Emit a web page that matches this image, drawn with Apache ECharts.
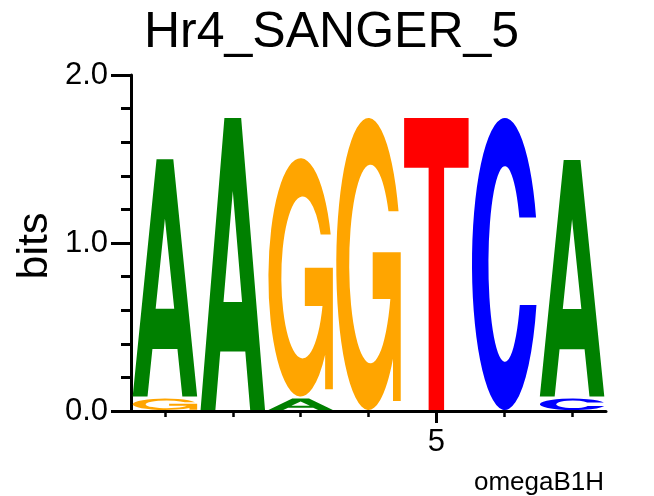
<!DOCTYPE html>
<html>
<head>
<meta charset="utf-8">
<script src="https://cdn.jsdelivr.net/npm/echarts@6/dist/echarts.min.js"></script>
<style>
  html, body { margin: 0; padding: 0; background: #fff; }
  #logo-chart { width: 654px; height: 496px; }
</style>
</head>
<body>
<div id="logo-chart"></div>
<script>
// sequence logo data (bits per letter, per position)
const positions = [1, 2, 3, 4, 5, 6, 7];
const bitsA = [1.425, 1.75, 0.08, 0, 0, 0, 1.42];
const bitsC = [0, 0, 0, 0, 0, 1.75, 0.08];
const bitsG = [0.08, 0, 1.43, 1.75, 0, 0, 0];
const bitsT = [0, 0, 0, 0, 1.75, 0, 0];
const yTicks = [0, 1, 2];
const xLabels = [5];

const letters = ['A', 'C', 'G', 'T'];
const letterBits = { A: bitsA, C: bitsC, G: bitsG, T: bitsT };
const letterColors = { A: '#008000', C: '#0000ff', G: '#ffa500', T: '#ff0000' };

// glyph outlines in a 100x100 box, stretched to each stack slot
const glyphs = {
  A: 'M0,100 L37,0 L63,0 L100,100 L77,100 L69.4,80 L30.6,80 L23,100 Z M50,25 L35.6,63 L64.4,63 Z',
  C: 'M97.4,34 A50,50 0 1 0 98,64 L72.7,64 A25,33.5 0 1 1 72,34 Z',
  G: 'M96.6,32 A50,50 0 1 0 88,82.5 L88,97 L100,97 L100,46 L56.5,46 L56.5,62 L83.9,62 A33,34 0 1 1 81,32 Z',
  T: 'M0,0 L100,0 L100,17 L62,17 L62,100 L38,100 L38,17 L0,17 Z'
};

// stack letters: smallest at the bottom
const stackData = [];
positions.forEach((pos, i) => {
  const col = letters
    .map((l, k) => ({ k: k, h: letterBits[l][i] }))
    .filter(d => d.h > 0)
    .sort((a, b) => a.h - b.h);
  let base = 0;
  col.forEach(d => {
    stackData.push([pos, base, base + d.h, d.k]);
    base += d.h;
  });
});

const font = 'Liberation Sans';
const chart = echarts.init(document.getElementById('logo-chart'));
chart.setOption({
  animation: false,
  title: [
    {
      text: 'Hr4_SANGER_5',
      left: 139,
      top: 3,
      textStyle: { fontFamily: font, fontSize: 50, fontWeight: 'normal', color: '#000' }
    },
    {
      text: 'omegaB1H',
      right: 45,
      top: 465,
      textStyle: { fontFamily: font, fontSize: 26, fontWeight: 'normal', color: '#000' }
    }
  ],
  graphic: [
    {
      type: 'text',
      x: 35,
      y: 246,
      rotation: Math.PI / 2,
      style: {
        text: 'bits',
        fontFamily: font,
        fontSize: 43,
        fill: '#000',
        align: 'center',
        verticalAlign: 'middle'
      }
    }
  ],
  grid: { left: 131, right: 48, top: 75, bottom: 85, containLabel: false },
  xAxis: [
    {
      type: 'value',
      min: 0.5,
      max: 7.5,
      splitLine: { show: false },
      axisLine: { show: true, lineStyle: { color: '#000', width: 3 } },
      axisTick: { show: true, customValues: positions, length: 6, lineStyle: { color: '#000', width: 2.5 } },
      axisLabel: { show: false }
    },
    {
      type: 'value',
      position: 'bottom',
      min: 0.5,
      max: 7.5,
      splitLine: { show: false },
      axisLine: { show: false },
      axisTick: { show: true, customValues: xLabels, length: 12, lineStyle: { color: '#000', width: 3 } },
      axisLabel: {
        show: true,
        customValues: xLabels,
        margin: 16,
        fontFamily: font,
        fontSize: 31,
        color: '#000'
      }
    }
  ],
  yAxis: {
    type: 'value',
    min: 0,
    max: 2,
    interval: 1,
    splitLine: { show: false },
    axisLine: { show: true, lineStyle: { color: '#000', width: 3 } },
    axisTick: { show: true, length: 20, lineStyle: { color: '#000', width: 3 } },
    minorTick: { show: true, splitNumber: 5, length: 10, lineStyle: { color: '#000', width: 3 } },
    axisLabel: {
      margin: 23,
      fontFamily: font,
      fontSize: 31,
      color: '#000',
      formatter: v => (yTicks.indexOf(v) >= 0 ? v.toFixed(1) : '')
    }
  },
  series: [
    {
      type: 'custom',
      xAxisIndex: 0,
      encode: { x: 0, y: [1, 2] },
      data: stackData,
      renderItem: function (params, api) {
        const letter = letters[api.value(3)];
        const p0 = api.coord([api.value(0) - 0.475, api.value(2)]);
        const p1 = api.coord([api.value(0) + 0.475, api.value(1)]);
        return {
          type: 'path',
          shape: {
            pathData: glyphs[letter],
            x: p0[0],
            y: p0[1] + 1,
            width: p1[0] - p0[0],
            height: Math.max(p1[1] - p0[1] - 2, 1),
            layout: 'cover'
          },
          style: { fill: letterColors[letter] }
        };
      }
    }
  ]
});
</script>
</body>
</html>
